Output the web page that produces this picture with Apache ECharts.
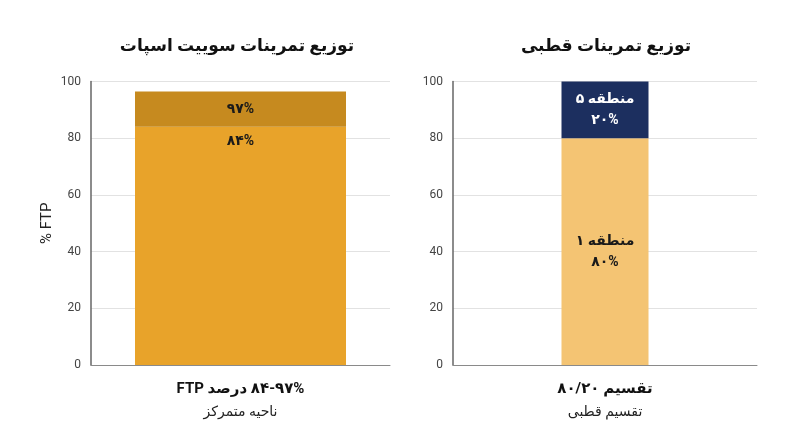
<!DOCTYPE html>
<html>
<head>
<meta charset="utf-8">
<script src="https://cdn.jsdelivr.net/npm/echarts@6/dist/echarts.min.js"></script>
<style>
  html, body { margin: 0; padding: 0; background: #fff; }
  #chart { width: 800px; height: 447px; direction: rtl; }
</style>
</head>
<body>
<div id="chart" dir="rtl"></div>
<script>
// LRI ... PDI keep numbers with % or / in left-to-right order inside rtl text
const ltr = s => '\u2066' + s + '\u2069'

// sweet spot chart
const focusCategory = ['{b|' + ltr('۸۴-۹۷%') + ' درصد FTP}\n{n|ناحیه متمرکز}']
const focusBase = [84]
const focusTop = [12.5]
const focusLabels = [ltr('۸۴%'), ltr('۹۷%')]

// polarized chart
const polarCategory = ['{b|تقسیم ' + ltr('۸۰/۲۰') + '}\n{n|تقسیم قطبی}']
const polarBase = [80]
const polarTop = [20]
const polarLabels = ['منطقه ۱\n' + ltr('۸۰%'), 'منطقه ۵\n' + ltr('۲۰%')]

const titles = ['توزیع تمرینات سوییت اسپات', 'توزیع تمرینات قطبی']
const yTicks = { min: 0, max: 100, interval: 20 }

const font = 'Roboto, "DejaVu Sans", sans-serif'

const myChart = echarts.init(document.getElementById('chart'))

const xAxisBase = {
  type: 'category',
  axisTick: { show: false },
  axisLine: { lineStyle: { color: '#8a8a8a', width: 1 } },
  axisLabel: {
    margin: 12,
    fontFamily: font,
    rich: {
      b: { fontSize: 15, fontWeight: 'bold', color: '#111', lineHeight: 24, fontFamily: font },
      n: { fontSize: 14, color: '#222', lineHeight: 22, fontFamily: font }
    }
  }
}

const yAxisBase = {
  type: 'value',
  min: yTicks.min,
  max: yTicks.max,
  interval: yTicks.interval,
  axisLine: { show: true, lineStyle: { color: '#666', width: 1.5 } },
  axisTick: { show: false },
  axisLabel: { color: '#444', fontSize: 12, fontFamily: font, margin: 10 },
  splitLine: { lineStyle: { color: '#e2e2e2' } }
}

myChart.setOption({
  animation: false,
  title: [
    {
      text: titles[0], left: 232, top: 33, textAlign: 'center',
      textStyle: { fontSize: 17, fontWeight: 'bold', color: '#111', fontFamily: font }
    },
    {
      text: titles[1], left: 601, top: 33, textAlign: 'center',
      textStyle: { fontSize: 17, fontWeight: 'bold', color: '#111', fontFamily: font }
    }
  ],
  grid: [
    { left: 91, right: 410, top: 81.5, bottom: 82 },
    { left: 453, right: 43, top: 81.5, bottom: 82 }
  ],
  xAxis: [
    { ...xAxisBase, gridIndex: 0, data: focusCategory },
    { ...xAxisBase, gridIndex: 1, data: polarCategory }
  ],
  yAxis: [
    {
      ...yAxisBase, gridIndex: 0,
      name: 'FTP %', nameLocation: 'middle', nameGap: 36, nameRotate: 90,
      nameTextStyle: { fontSize: 15, color: '#222', fontFamily: font }
    },
    { ...yAxisBase, gridIndex: 1 }
  ],
  series: [
    {
      name: 'focus-base', type: 'bar', stack: 'focus', xAxisIndex: 0, yAxisIndex: 0,
      barWidth: 211, data: focusBase,
      itemStyle: { color: '#E8A32A' },
      label: {
        show: true, position: 'insideTop', distance: 8, formatter: () => focusLabels[0],
        color: '#1a1a1a', fontSize: 14, fontWeight: 'bold', fontFamily: font
      }
    },
    {
      name: 'focus-top', type: 'bar', stack: 'focus', xAxisIndex: 0, yAxisIndex: 0,
      barWidth: 211, data: focusTop,
      itemStyle: { color: '#C68A1F' },
      label: {
        show: true, position: 'inside', formatter: () => focusLabels[1],
        color: '#1a1a1a', fontSize: 14, fontWeight: 'bold', fontFamily: font
      }
    },
    {
      name: 'polar-base', type: 'bar', stack: 'polar', xAxisIndex: 1, yAxisIndex: 1,
      barWidth: 87, data: polarBase,
      itemStyle: { color: '#F4C473' },
      label: {
        show: true, position: 'inside', formatter: () => polarLabels[0], lineHeight: 21,
        color: '#1a1a1a', fontSize: 14, fontWeight: 'bold', fontFamily: font
      }
    },
    {
      name: 'polar-top', type: 'bar', stack: 'polar', xAxisIndex: 1, yAxisIndex: 1,
      barWidth: 87, data: polarTop,
      itemStyle: { color: '#1C2F5F' },
      label: {
        show: true, position: 'inside', formatter: () => polarLabels[1], lineHeight: 21,
        color: '#fff', fontSize: 14, fontWeight: 'bold', fontFamily: font
      }
    }
  ]
})
</script>
</body>
</html>
